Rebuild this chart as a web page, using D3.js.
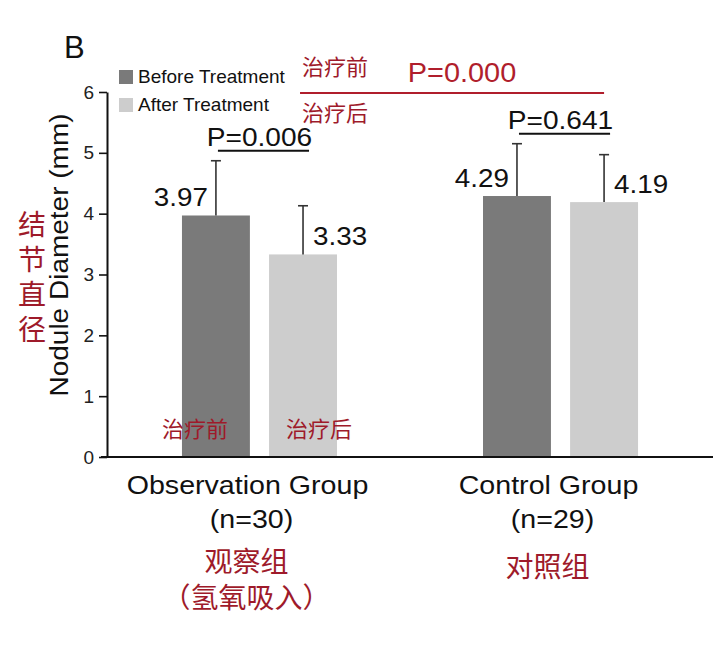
<!DOCTYPE html>
<html>
<head>
<meta charset="utf-8">
<script src="https://cdn.jsdelivr.net/npm/d3@7"></script>
<style>
  body { margin: 0; background: #fff; }
  text { font-family: "Liberation Sans", Arial, sans-serif; }
  .cn { font-family: "Noto Sans CJK SC", sans-serif; }
</style>
</head>
<body>
<svg id="chart"></svg>
<script>
// chart values
const groups = ['Observation Group', 'Control Group'];
const groupN = ['(n=30)', '(n=29)'];
const groupCn = [['观察组', '（氢氧吸入）'], ['对照组']];
const series = ['Before Treatment', 'After Treatment'];
const means = [[3.97, 3.33], [4.29, 4.19]];
const sds = [[0.90, 0.80], [0.86, 0.78]];
const pWithin = ['P=0.006', 'P=0.641'];
const pBetween = 'P=0.000';
const yTicks = [0, 1, 2, 3, 4, 5, 6];
const seriesCn = ['治疗前', '治疗后'];
const yTitle = 'Nodule Diameter (mm)';
const yTitleCn = '结节直径';

const W = 720, H = 647;
const colors = ['#7a7a7a', '#cdcdcd'];
const red = '#b01e2c';
const darkRed = '#9e1a2a';

const svg = d3.select('#chart')
    .attr('width', W)
    .attr('height', H);

const x = d3.scaleBand()
    .domain(groups)
    .range([107, 713])
    .paddingInner(0.485)
    .paddingOuter(0.249);

const xs = d3.scaleBand()
    .domain(series)
    .range([0, x.bandwidth()])
    .paddingInner(0.22);

const y = d3.scaleLinear()
    .domain([0, 6])
    .range([457, 92]);

// text with a little horizontal stretch, the source font runs wide
const label = (g, px, py, str, opts = {}) => g.append('text')
    .attr('transform', `translate(${px},${py}) rotate(${opts.rotate || 0}) scale(${opts.sx || 1},1)`)
    .attr('text-anchor', opts.anchor || 'middle')
    .attr('font-size', opts.size || 26)
    .attr('fill', opts.fill || '#111')
    .attr('class', opts.cn ? 'cn' : null)
    .text(str);

const barCenter = (gi, si) => x(groups[gi]) + xs(series[si]) + xs.bandwidth() / 2;

// bars
const bars = groups.flatMap((g, gi) => series.map((s, si) => ({ gi, si, mean: means[gi][si], sd: sds[gi][si] })));

svg.append('g')
    .selectAll('rect')
    .data(bars)
    .join('rect')
    .attr('x', d => x(groups[d.gi]) + xs(series[d.si]))
    .attr('width', xs.bandwidth())
    .attr('y', d => y(d.mean))
    .attr('height', d => y(0) - y(d.mean))
    .attr('fill', d => colors[d.si]);

// error bars (upper only)
const err = svg.append('g').attr('stroke', '#333').attr('stroke-width', 1.6);
err.selectAll('line.v')
    .data(bars)
    .join('line')
    .attr('class', 'v')
    .attr('x1', d => barCenter(d.gi, d.si))
    .attr('x2', d => barCenter(d.gi, d.si))
    .attr('y1', d => y(d.mean))
    .attr('y2', d => y(d.mean + d.sd));
err.selectAll('line.c')
    .data(bars)
    .join('line')
    .attr('class', 'c')
    .attr('x1', d => barCenter(d.gi, d.si) - 5)
    .attr('x2', d => barCenter(d.gi, d.si) + 5)
    .attr('y1', d => y(d.mean + d.sd))
    .attr('y2', d => y(d.mean + d.sd));

// value labels
bars.forEach(d => {
    const cx = barCenter(d.gi, d.si);
    const before = d.si === 0;
    label(svg, before ? cx - 8 : cx + 10, y(d.mean) - 9, d.mean.toFixed(2),
        { anchor: before ? 'end' : 'start', sx: 1.07 });
});

// within-group p values
groups.forEach((g, gi) => {
    const top = d3.max(series, (s, si) => means[gi][si] + sds[gi][si]);
    const ly = y(top) - 10;
    svg.append('line')
        .attr('x1', barCenter(gi, 0) + 2)
        .attr('x2', barCenter(gi, 1) + 6)
        .attr('y1', ly)
        .attr('y2', ly)
        .attr('stroke', '#111')
        .attr('stroke-width', 2);
    label(svg, x(g) + x.bandwidth() / 2, ly - 5, pWithin[gi], { sx: 1.08 });
});

// between-group p value (red)
const rx1 = barCenter(0, 1) - 3, rx2 = barCenter(1, 1);
svg.append('line')
    .attr('x1', rx1)
    .attr('x2', rx2)
    .attr('y1', 93)
    .attr('y2', 93)
    .attr('stroke', red)
    .attr('stroke-width', 2);
label(svg, 462, 82, pBetween, { fill: red, size: 27, sx: 1.07 });
label(svg, rx1 + 2, 75, seriesCn[0], { anchor: 'start', size: 22, fill: darkRed, cn: true });
label(svg, rx1 + 2, 121, seriesCn[1], { anchor: 'start', size: 22, fill: darkRed, cn: true });

// red labels inside the observation bars
label(svg, barCenter(0, 0) - 21, 437, seriesCn[0], { size: 22, fill: darkRed, cn: true });
label(svg, barCenter(0, 1) + 16, 437, seriesCn[1], { size: 22, fill: darkRed, cn: true });

// y axis
const yAxis = svg.append('g')
    .attr('transform', 'translate(107,0)')
    .call(d3.axisLeft(y).tickValues(yTicks).tickFormat(d3.format('d'))
        .tickSize(8).tickSizeOuter(0).tickPadding(5));
yAxis.select('.domain').attr('stroke', '#111').attr('stroke-width', 2);
yAxis.selectAll('.tick line').attr('stroke', '#111').attr('stroke-width', 1.6);
yAxis.selectAll('.tick text')
    .attr('font-size', 19)
    .attr('fill', '#222')
    .attr('font-family', '"Liberation Sans", Arial, sans-serif');

// x axis line
svg.append('line')
    .attr('x1', 101)
    .attr('x2', 713)
    .attr('y1', y(0))
    .attr('y2', y(0))
    .attr('stroke', '#111')
    .attr('stroke-width', 2);

// group labels
groups.forEach((g, gi) => {
    const cx = x(g) + x.bandwidth() / 2;
    label(svg, cx - 12, 494, g, { sx: 1.1 });
    label(svg, cx - 8, 528, groupN[gi], { sx: 1.1 });
    groupCn[gi].forEach((t, i) => {
        label(svg, cx - 13, (gi === 0 ? 572 : 577) + i * 36, t, { size: 28, fill: darkRed, cn: true });
    });
});

// y title
label(svg, 68, 255, yTitle, { rotate: -90, size: 25, sx: 1.12 });
yTitleCn.split('').forEach((ch, i) => {
    label(svg, 32, 235 + i * 35, ch, { size: 28, fill: darkRed, cn: true });
});

// legend
const legend = svg.append('g')
    .selectAll('g')
    .data(series)
    .join('g')
    .attr('transform', (d, i) => `translate(119,${70 + i * 28})`);
legend.append('rect')
    .attr('width', 14)
    .attr('height', 14)
    .attr('fill', (d, i) => colors[i]);
legend.append('text')
    .attr('x', 19)
    .attr('y', 13)
    .attr('font-size', 19)
    .attr('fill', '#111')
    .text(d => d);

// panel letter
label(svg, 64, 58, 'B', { anchor: 'start', size: 31 });
</script>
</body>
</html>
